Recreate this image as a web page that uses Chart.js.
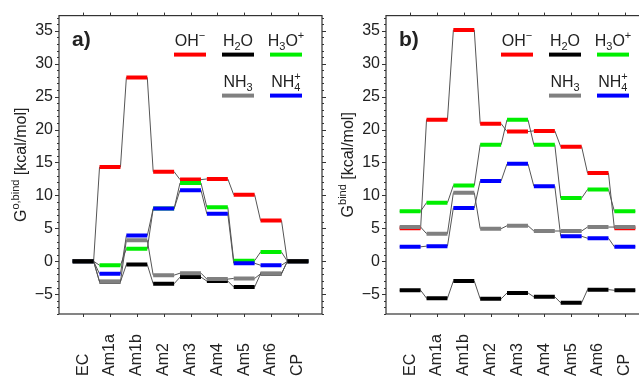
<!DOCTYPE html>
<html>
<head>
<meta charset="utf-8">
<script src="https://cdn.jsdelivr.net/npm/chart.js@4/dist/chart.umd.min.js"></script>
<style>
  html, body { margin: 0; padding: 0; background: #fff; overflow: hidden; width: 639px; height: 379px; }
  canvas { position: absolute; top: 0; }
  #chartA { left: 0; }
  #chartB { left: 326px; }
</style>
</head>
<body>
<canvas id="chartA" width="330" height="379"></canvas>
<canvas id="chartB" width="330" height="379"></canvas>
<script>
const categories = ['EC', 'Am1a', 'Am1b', 'Am2', 'Am3', 'Am4', 'Am5', 'Am6', 'CP'];
const yTicks = [-5, 0, 5, 10, 15, 20, 25, 30, 35];

// panel a) G°,bind relative to EC/CP
const ohA  = [0, 14.3, 27.9, 13.6, 12.4, 12.5, 10.1, 6.2, 0];
const h2oA = [0, -3.1, -0.5, -3.4, -2.4, -3.0, -3.9, -1.9, 0];
const h3oA = [0, -0.6, 1.9, 8.0, 11.9, 8.2, 0.1, 1.4, 0];
const nh3A = [0, -3.1, 3.2, -2.1, -1.8, -2.7, -2.6, -1.9, 0];
const nh4A = [0, -1.9, 3.9, 8.0, 10.8, 7.2, -0.3, -0.6, 0];
const refA = [0, null, null, null, null, null, null, null, 0];

// panel b) Gbind
const ohB  = [5.0, 21.5, 35.1, 20.9, 19.7, 19.8, 17.4, 13.4, 5.0];
const h2oB = [-4.4, -5.6, -3.0, -5.7, -4.8, -5.4, -6.3, -4.3, -4.4];
const h3oB = [7.6, 8.9, 11.5, 17.7, 21.5, 17.7, 9.6, 10.9, 7.6];
const nh3B = [5.2, 4.2, 10.4, 4.95, 5.4, 4.6, 4.6, 5.2, 5.2];
const nh4B = [2.2, 2.3, 8.1, 12.2, 14.8, 11.4, 3.8, 3.5, 2.2];

const colors = ['#ff0000', '#000000', '#00ee00', '#808080', '#0000ff'];
// legend labels: [text, 'sub' | 'sup' | 'stack' | '']
const legendLabels = [
  [['OH', ''], ['−', 'sup']],
  [['H', ''], ['2', 'sub'], ['O', '']],
  [['H', ''], ['3', 'sub'], ['O', ''], ['+', 'sup']],
  [['NH', ''], ['3', 'sub']],
  [['NH', ''], ['4', 'sub'], ['+', 'stack']]
];
const legendCells = [[0, 0], [1, 0], [2, 0], [1, 1], [2, 1]];
const drawOrder = [0, 2, 4, 1, 3]; // red, green, blue, black, gray on top

const FONT = "'Liberation Sans', Arial, sans-serif";
const W = 0.39; // half width of a level bar, in category units

function richWidth(ctx, parts) {
  let w = 0, last = 0;
  parts.forEach(([t, k]) => {
    ctx.font = (k ? '11px ' : '16px ') + FONT;
    const tw = ctx.measureText(t).width;
    if (k === 'stack') { w = Math.max(w, w - last + tw); }
    else { w += tw; last = tw; }
  });
  return w;
}

function drawRich(ctx, parts, x, y) {
  let prevX = x;
  parts.forEach(([t, k]) => {
    ctx.font = (k ? '11px ' : '16px ') + FONT;
    const tw = ctx.measureText(t).width;
    if (k === 'stack') { ctx.fillText(t, prevX, y - 7); return; }
    const dy = k === 'sub' ? 4 : (k === 'sup' ? -7 : 0);
    ctx.fillText(t, x, y + dy);
    prevX = x;
    x += tw;
  });
}

function decor(panelLabel, titleSup, titleX) {
  return {
    id: 'decor',
    afterDraw(chart) {
      const ctx = chart.ctx;
      const a = chart.chartArea;
      const xs = chart.scales.x, ys = chart.scales.y;
      ctx.save();
      ctx.strokeStyle = '#333';
      ctx.lineWidth = 1.2;
      ctx.strokeRect(a.left, a.top, a.right - a.left, a.bottom - a.top);
      ctx.lineWidth = 1;
      ctx.beginPath();
      for (let v = Math.ceil(ys.min); v <= ys.max; v++) {
        const y = Math.round(ys.getPixelForValue(v)) + 0.5;
        const len = v % 5 === 0 ? 4 : 2;
        ctx.moveTo(a.left, y); ctx.lineTo(a.left - len, y);
        ctx.moveTo(a.right, y); ctx.lineTo(a.right + len, y);
      }
      categories.forEach((c, i) => {
        const x = Math.round(xs.getPixelForValue(i)) + 0.5;
        ctx.moveTo(x, a.top); ctx.lineTo(x, a.top - 3);
        ctx.moveTo(x, a.bottom); ctx.lineTo(x, a.bottom + 3);
      });
      ctx.stroke();

      // category labels, rotated
      ctx.fillStyle = '#222';
      ctx.font = '16px ' + FONT;
      ctx.textAlign = 'left';
      ctx.textBaseline = 'middle';
      categories.forEach((c, i) => {
        ctx.save();
        ctx.translate(xs.getPixelForValue(i), 376);
        ctx.rotate(-Math.PI / 2);
        ctx.fillText(c, 0, 0);
        ctx.restore();
      });

      // y axis title
      ctx.textBaseline = 'alphabetic';
      const title = [['G', ''], [titleSup, 'sup'], [' [kcal/mol]', '']];
      const tw = richWidth(ctx, title);
      ctx.save();
      ctx.translate(titleX, (a.top + a.bottom) / 2);
      ctx.rotate(-Math.PI / 2);
      drawRich(ctx, title, -tw / 2, 6);
      ctx.restore();

      // panel label
      ctx.font = 'bold 21px ' + FONT;
      ctx.fillText(panelLabel, a.left + 13, a.top + 30);

      // legend
      legendLabels.forEach((parts, k) => {
        const [col, row] = legendCells[k];
        const lx = a.left + 115 + col * 48;
        const ly = a.top + 39 + row * 41;
        ctx.strokeStyle = colors[k];
        ctx.lineWidth = 4;
        ctx.beginPath();
        ctx.moveTo(lx, ly); ctx.lineTo(lx + 32, ly);
        ctx.stroke();
        const w = richWidth(ctx, parts);
        ctx.fillStyle = '#222';
        drawRich(ctx, parts, lx + 16 - w / 2, ly - 9);
      });
      ctx.restore();
    }
  };
}

function makeChart(id, series, ref, axisWidth, padRight, panelLabel, titleSup, titleX) {
  const datasets = [];
  let ord = 100;
  series.forEach(s => {
    const pts = [];
    s.forEach((v, i) => { pts.push({ x: i - W, y: v }, { x: i + W, y: v }); });
    datasets.push({ data: pts, borderColor: '#555', borderWidth: 1, order: ord-- });
  });
  const bars = drawOrder.map(k => [series[k], colors[k]]);
  if (ref) bars.push([ref, '#000000']);
  bars.forEach(([s, col]) => {
    const pts = [];
    s.forEach((v, i) => {
      if (v === null) return;
      pts.push({ x: i - W, y: v }, { x: i + W, y: v }, { x: i + W, y: null });
    });
    datasets.push({ data: pts, borderColor: col, borderWidth: 4, borderCapStyle: 'butt', order: ord-- });
  });

  return new Chart(document.getElementById(id), {
    type: 'line',
    data: { datasets },
    options: {
      responsive: false,
      animation: false,
      events: [],
      spanGaps: false,
      layout: { padding: { left: 0, top: 15, right: padRight, bottom: 65 } },
      elements: { point: { radius: 0 }, line: { tension: 0, fill: false } },
      plugins: { legend: { display: false }, tooltip: { enabled: false } },
      scales: {
        x: { type: 'linear', min: -0.9, max: 8.9, display: false },
        y: {
          min: -8, max: 37.3,
          afterBuildTicks: s => { s.ticks = yTicks.map(v => ({ value: v })); },
          afterFit: s => { s.width = axisWidth; },
          grid: { display: false, drawTicks: false },
          border: { display: false },
          ticks: {
            padding: 6, color: '#222',
            font: { family: FONT, size: 16 },
            callback: v => v < 0 ? '−' + (-v) : '' + v
          }
        }
      }
    },
    plugins: [decor(panelLabel, titleSup, titleX)]
  });
}

makeChart('chartA', [ohA, h2oA, h3oA, nh3A, nh4A], refA, 59, 8, 'a)', 'o,bind', 19.5);
makeChart('chartB', [ohB, h2oB, h3oB, nh3B, nh4B], null, 60, 7, 'b)', 'bind', 20.5);
</script>
</body>
</html>
